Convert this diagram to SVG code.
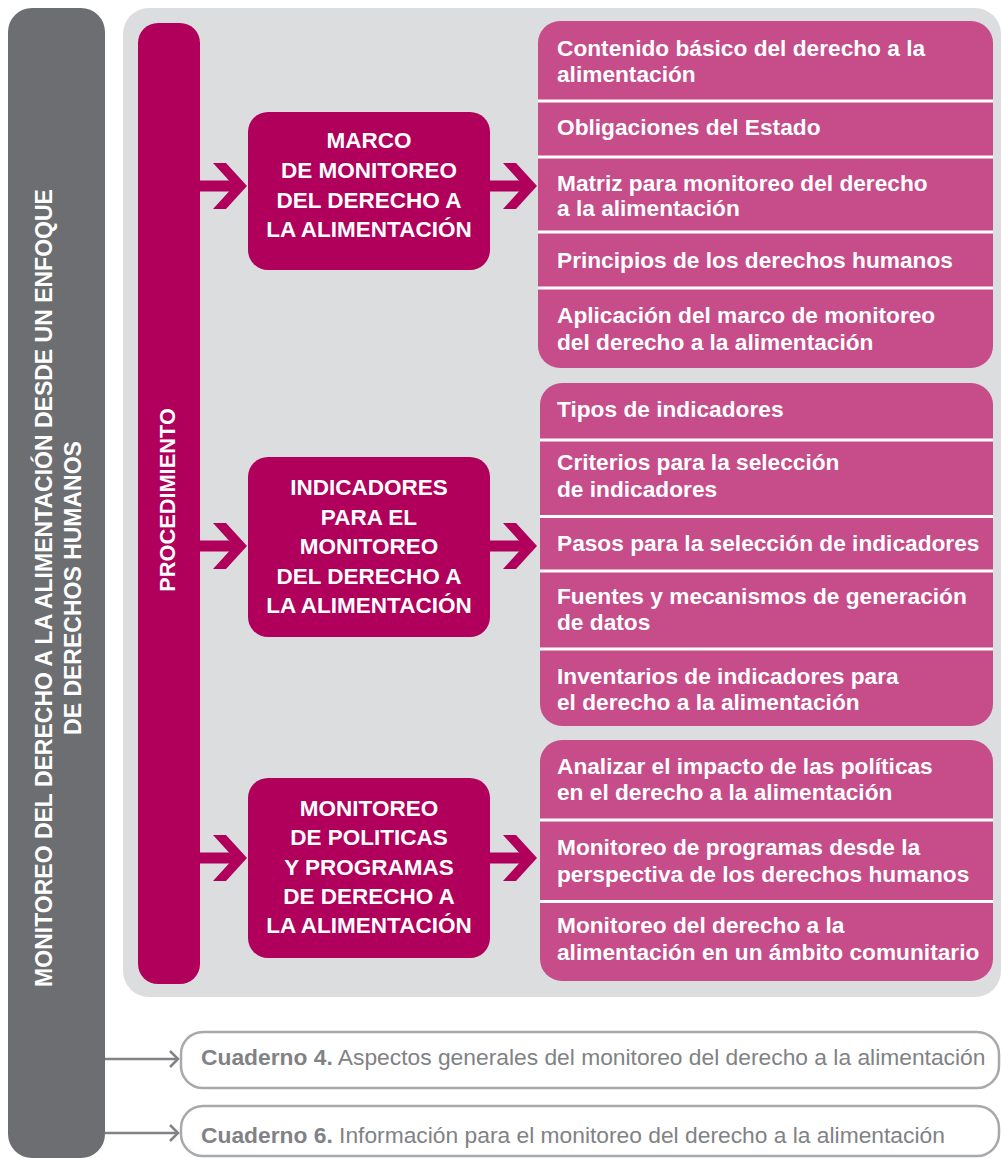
<svg xmlns="http://www.w3.org/2000/svg" width="1001" height="1158" viewBox="0 0 1001 1158">
<defs>
<style>
.b{font-family:"Liberation Sans",Arial,sans-serif;font-weight:bold;font-size:22.7px;fill:#fff}
.m{font-size:22.5px}
.c{text-anchor:middle}
.item{fill:#c64c8a}
.sep{stroke:#fff;stroke-width:3}
.mid{fill:#b1005c}
.arr{fill:#b1005c}
.gt{font-family:"Liberation Sans",Arial,sans-serif;font-size:22.8px;fill:#808285}
.gbox{fill:#fff;stroke:#a7a9ac;stroke-width:2.5}
.gl{stroke:#808285;stroke-width:2.5;fill:none}
</style>
<g id="arrowShape">
<rect x="0" y="-5.5" width="40" height="11"/>
<polygon points="13,-23 26,-23 47,0 26,23 13,23 34,0"/>
</g>
</defs>

<g id="leftbar">
<rect x="8" y="8" width="97" height="1150" rx="24" fill="#6d6e71"/>
<text class="b c" style="font-size:23px" transform="translate(52,588) rotate(-90)">MONITOREO DEL DERECHO A LA ALIMENTACIÓN DESDE UN ENFOQUE</text>
<text class="b c" style="font-size:23px" transform="translate(81,588) rotate(-90)">DE DERECHOS HUMANOS</text>
</g>

<g id="panel">
<rect x="123" y="8" width="878" height="989" rx="26" fill="#dcdddf"/>
</g>

<g id="procedimiento">
<rect x="138" y="23" width="62" height="961" rx="20" class="mid"/>
<text class="b c" style="font-size:21.8px" transform="translate(175,500) rotate(-90)">PROCEDIMIENTO</text>
</g>

<g id="marco">
<rect x="248" y="112" width="242" height="158" rx="20" class="mid"/>
<text class="b c m" x="369" y="148">MARCO</text>
<text class="b c m" x="369" y="178">DE MONITOREO</text>
<text class="b c m" x="369" y="207.5">DEL DERECHO A</text>
<text class="b c m" x="369" y="237">LA ALIMENTACIÓN</text>
</g>

<g id="indicadores">
<rect x="248" y="457" width="242" height="180" rx="20" class="mid"/>
<text class="b c m" x="369" y="495">INDICADORES</text>
<text class="b c m" x="369" y="524.5">PARA EL</text>
<text class="b c m" x="369" y="554">MONITOREO</text>
<text class="b c m" x="369" y="583.5">DEL DERECHO A</text>
<text class="b c m" x="369" y="613">LA ALIMENTACIÓN</text>
</g>

<g id="politicas">
<rect x="248" y="778" width="242" height="180" rx="20" class="mid"/>
<text class="b c m" x="369" y="815.5">MONITOREO</text>
<text class="b c m" x="369" y="845">DE POLITICAS</text>
<text class="b c m" x="369" y="874.5">Y PROGRAMAS</text>
<text class="b c m" x="369" y="904">DE DERECHO A</text>
<text class="b c m" x="369" y="933">LA ALIMENTACIÓN</text>
</g>

<g id="list1">
<rect x="538" y="21" width="455" height="347" rx="22" class="item"/>
<line x1="538" y1="101" x2="993" y2="101" class="sep"/>
<line x1="538" y1="157" x2="993" y2="157" class="sep"/>
<line x1="538" y1="232" x2="993" y2="232" class="sep"/>
<line x1="538" y1="288" x2="993" y2="288" class="sep"/>
<text class="b" x="557" y="56">Contenido básico del derecho a la</text>
<text class="b" x="557" y="82">alimentación</text>
<text class="b" x="557" y="135">Obligaciones del Estado</text>
<text class="b" x="557" y="190.5">Matriz para monitoreo del derecho</text>
<text class="b" x="557" y="216">a la alimentación</text>
<text class="b" x="557" y="268">Principios de los derechos humanos</text>
<text class="b" x="557" y="323">Aplicación del marco de monitoreo</text>
<text class="b" x="557" y="349.5">del derecho a la alimentación</text>
</g>

<g id="list2">
<rect x="540" y="383" width="453" height="343" rx="22" class="item"/>
<line x1="540" y1="440" x2="993" y2="440" class="sep"/>
<line x1="540" y1="516.5" x2="993" y2="516.5" class="sep"/>
<line x1="540" y1="571" x2="993" y2="571" class="sep"/>
<line x1="540" y1="649" x2="993" y2="649" class="sep"/>
<text class="b" x="557" y="417">Tipos de indicadores</text>
<text class="b" x="557" y="470">Criterios para la selección</text>
<text class="b" x="557" y="497">de indicadores</text>
<text class="b" x="557" y="551">Pasos para la selección de indicadores</text>
<text class="b" x="557" y="603.5">Fuentes y mecanismos de generación</text>
<text class="b" x="557" y="630">de datos</text>
<text class="b" x="557" y="683.5">Inventarios de indicadores para</text>
<text class="b" x="557" y="710">el derecho a la alimentación</text>
</g>

<g id="list3">
<rect x="540" y="740" width="453" height="241" rx="22" class="item"/>
<line x1="540" y1="820" x2="993" y2="820" class="sep"/>
<line x1="540" y1="901.5" x2="993" y2="901.5" class="sep"/>
<text class="b" x="557" y="773.5">Analizar el impacto de las políticas</text>
<text class="b" x="557" y="800">en el derecho a la alimentación</text>
<text class="b" x="557" y="855">Monitoreo de programas desde la</text>
<text class="b" x="557" y="881.5">perspectiva de los derechos humanos</text>
<text class="b" x="557" y="933">Monitoreo del derecho a la</text>
<text class="b" x="557" y="959.5">alimentación en un ámbito comunitario</text>
</g>

<g id="cuaderno4">
<rect x="181" y="1032" width="818" height="56" rx="22" class="gbox"/>
<text class="gt" x="201" y="1065"><tspan font-weight="bold">Cuaderno 4.</tspan> Aspectos generales del monitoreo del derecho a la alimentación</text>
</g>

<g id="cuaderno6">
<rect x="181" y="1106" width="818" height="50" rx="22" class="gbox"/>
<text class="gt" x="201" y="1143"><tspan font-weight="bold">Cuaderno 6.</tspan> Información para el monitoreo del derecho a la alimentación</text>
</g>

<g id="connectors">
<use href="#arrowShape" class="arr" transform="translate(200,186)"/>
<use href="#arrowShape" class="arr" transform="translate(490,186)"/>
<use href="#arrowShape" class="arr" transform="translate(200,546)"/>
<use href="#arrowShape" class="arr" transform="translate(490,546)"/>
<use href="#arrowShape" class="arr" transform="translate(200,858)"/>
<use href="#arrowShape" class="arr" transform="translate(490,858)"/>
<line x1="105" y1="1059" x2="178" y2="1059" class="gl"/>
<polyline points="170,1051 178,1059 170,1067" class="gl"/>
<line x1="105" y1="1133" x2="178" y2="1133" class="gl"/>
<polyline points="170,1125 178,1133 170,1141" class="gl"/>
</g>
</svg>
